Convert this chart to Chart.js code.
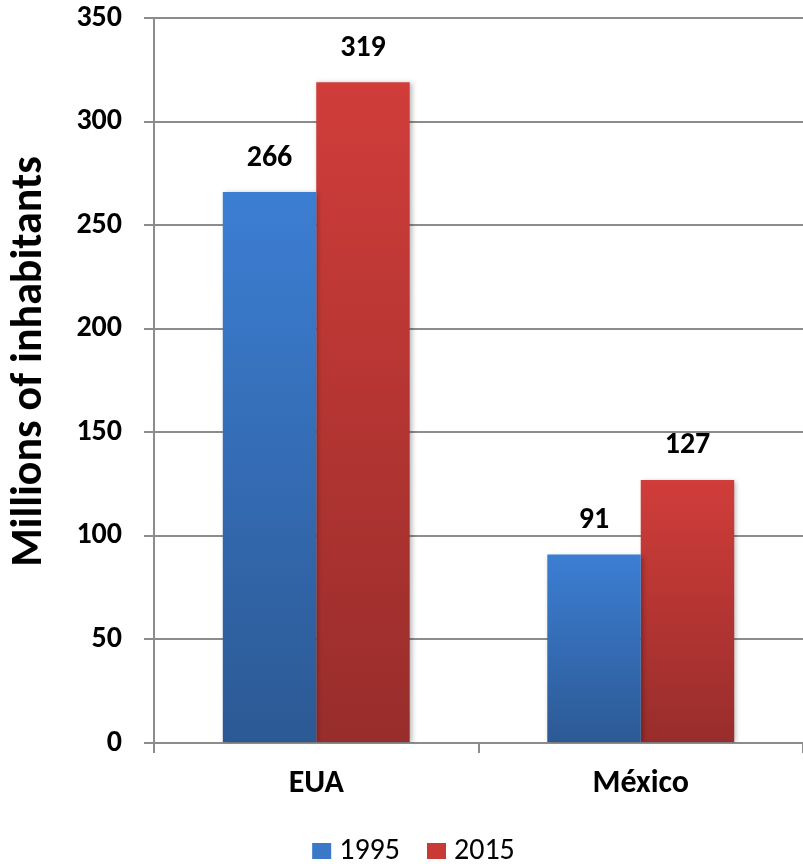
<!DOCTYPE html>
<html>
<head>
<meta charset="utf-8">
<script src="https://cdn.jsdelivr.net/npm/chart.js@4/dist/chart.umd.min.js"></script>
<style>
  html, body { margin: 0; padding: 0; background: #fff; }
  #wrap { width: 803px; height: 864px; position: relative; }
  canvas { display: block; }
</style>
</head>
<body>
<div id="wrap"><canvas id="c" width="803" height="864"></canvas></div>
<script>
const categories = ['EUA', 'México'];
const seriesNames = ['1995', '2015'];
const values1995 = [266, 91];
const values2015 = [319, 127];
const yTicks = [0, 50, 100, 150, 200, 250, 300, 350];
const axisTitle = 'Millions of inhabitants';

const FONT = "Carlito, Lato, 'Liberation Sans', sans-serif";
const GRID = '#8c8c8c';
const SWATCH = ['#3a78c8', '#c93a37'];

// vertical gradient spanning each bar from its top down to the baseline
function barGradient(top, bottom) {
  return function (ctx) {
    const chart = ctx.chart;
    const y = chart.scales.y;
    if (!chart.chartArea || !y || ctx.parsed == null) return bottom;
    const y0 = y.getPixelForValue(0);
    const y1 = y.getPixelForValue(ctx.parsed.y);
    if (!isFinite(y0) || !isFinite(y1) || y0 === y1) return bottom;
    const g = chart.ctx.createLinearGradient(0, y1, 0, y0);
    g.addColorStop(0, top);
    g.addColorStop(1, bottom);
    return g;
  };
}

// soft drop shadow behind the bars
const barShadow = {
  id: 'barShadow',
  beforeDatasetsDraw(chart) {
    const c = chart.ctx;
    c.save();
    c.shadowColor = 'rgba(0,0,0,0.28)';
    c.shadowBlur = 5;
    c.shadowOffsetX = 2;
    c.shadowOffsetY = 1;
  },
  afterDatasetsDraw(chart) {
    chart.ctx.restore();
  }
};

// bold value labels above each bar
const valueLabels = {
  id: 'valueLabels',
  afterDatasetsDraw(chart) {
    const c = chart.ctx;
    c.save();
    c.font = "bold 30px " + FONT;
    c.fillStyle = '#000';
    c.textAlign = 'center';
    c.textBaseline = 'middle';
    chart.data.datasets.forEach((ds, i) => {
      chart.getDatasetMeta(i).data.forEach((bar, j) => {
        c.fillText(String(ds.data[j]), bar.x, bar.y - 34);
      });
    });
    c.restore();
  }
};

// rotated y-axis title, left of the tick labels
const yTitle = {
  id: 'yTitle',
  afterDraw(chart) {
    const c = chart.ctx;
    const area = chart.chartArea;
    c.save();
    c.translate(30, (area.top + area.bottom) / 2 - 19);
    c.rotate(-Math.PI / 2);
    c.font = "bold 44px " + FONT;
    c.fillStyle = '#000';
    c.textAlign = 'center';
    c.textBaseline = 'middle';
    c.fillText(axisTitle, 0, 0);
    c.restore();
  }
};

// legend row under the category labels
const bottomLegend = {
  id: 'bottomLegend',
  afterDraw(chart) {
    const c = chart.ctx;
    c.save();
    c.font = "30px " + FONT;
    c.textBaseline = 'middle';
    c.textAlign = 'left';
    const box = 19, boxH = 16, gapText = 8, gapItem = 27;
    const widths = chart.data.datasets.map(ds => box + gapText + c.measureText(ds.label).width);
    const total = widths.reduce((a, b) => a + b, 0) + gapItem * (widths.length - 1);
    const cy = 851;
    let x = chart.width / 2 + 12 - total / 2;
    chart.data.datasets.forEach((ds, i) => {
      c.fillStyle = SWATCH[i];
      c.fillRect(x, cy - boxH / 2, box, boxH);
      c.fillStyle = '#000';
      c.fillText(ds.label, x + box + gapText, cy);
      x += widths[i] + gapItem;
    });
    c.restore();
  }
};

new Chart(document.getElementById('c'), {
  type: 'bar',
  data: {
    labels: categories,
    datasets: [
      {
        label: seriesNames[0],
        data: values1995,
        backgroundColor: barGradient('#3c7ed3', '#2c5994'),
        categoryPercentage: 0.576,
        barPercentage: 1.0
      },
      {
        label: seriesNames[1],
        data: values2015,
        backgroundColor: barGradient('#d03d3a', '#982d2b'),
        categoryPercentage: 0.576,
        barPercentage: 1.0
      }
    ]
  },
  options: {
    responsive: false,
    animation: false,
    devicePixelRatio: 1,
    layout: { padding: { top: 0, right: 0, left: 0, bottom: 41 } },
    plugins: {
      tooltip: { enabled: false },
      legend: { display: false }
    },
    scales: {
      x: {
        grid: {
          display: true,
          drawOnChartArea: false,
          drawTicks: true,
          tickLength: 10,
          color: GRID,
          lineWidth: 2,
          offset: true
        },
        border: { display: true, color: GRID, width: 2 },
        ticks: {
          color: '#000',
          font: { family: FONT, size: 32, weight: 'bold' },
          padding: 12,
          maxRotation: 0
        },
        afterFit(s) { s.height = 80; }
      },
      y: {
        min: 0,
        max: 350,
        afterBuildTicks(s) { s.ticks = yTicks.map(v => ({ value: v })); },
        grid: {
          color: GRID,
          lineWidth: 2,
          tickLength: 10
        },
        border: { display: true, color: GRID, width: 2 },
        ticks: {
          color: '#000',
          font: { family: FONT, size: 30, weight: 'bold' },
          padding: 22
        },
        afterFit(s) {
          s.width = 154;
          s.paddingTop = 18;
          s.paddingBottom = 0;
        }
      }
    }
  },
  plugins: [barShadow, valueLabels, yTitle, bottomLegend]
});
</script>
</body>
</html>
